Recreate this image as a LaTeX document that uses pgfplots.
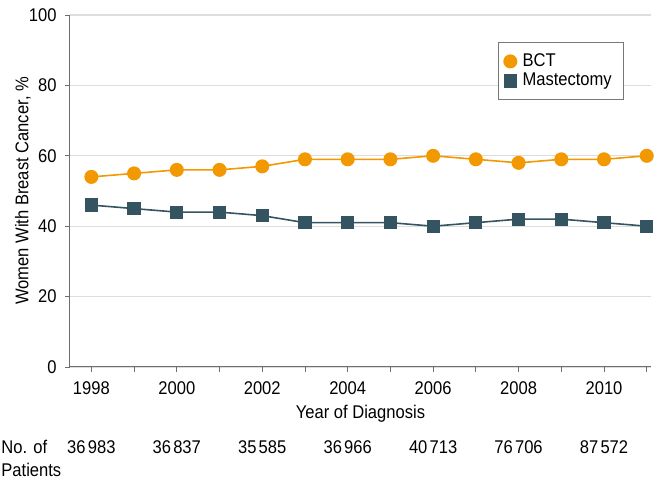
\documentclass[border=0pt]{standalone}
\usepackage{fontspec}
\setmainfont[FakeStretch=0.9]{Liberation Sans}
\usepackage{pgfplots}
\pgfplotsset{compat=1.18}
\definecolor{bct}{RGB}{242,152,0}
\definecolor{mast}{RGB}{52,84,98}
\definecolor{axgray}{RGB}{110,110,110}
\definecolor{gridgray}{RGB}{221,221,221}
\newcommand{\fs}{\fontsize{9.2pt}{10.5pt}\selectfont}
\begin{document}
\fs
\begin{tikzpicture}
\begin{axis}[
  name=ax,
  scale only axis,
  width=290.5pt, height=176pt,
  xmin=1997.5, xmax=2011.1,
  ymin=0, ymax=100,
  axis x line*=bottom, axis y line*=left,
  axis line style={axgray, line width=0.5pt},
  xtick={1998,2000,...,2010},
  minor xtick={1999,2001,...,2011},
  ytick={0,20,...,100},
  tick align=outside,
  major tick length=2.5pt, minor tick length=2.5pt,
  tick style={axgray, line width=0.4pt},
  minor tick style={axgray, line width=0.4pt},
  ymajorgrids, major grid style={gridgray, line width=0.6pt},
  xticklabel style={yshift=-1.5pt, font=\fs},
  yticklabel style={xshift=-1pt, font=\fs},
  /pgf/number format/assume math mode=true,
  /pgf/number format/1000 sep={},
  xlabel={Year of Diagnosis},
  xlabel style={at={(rel axis cs:0.5,0)}, anchor=center, yshift=-23.5pt, font=\fs},
  clip=false,
  legend style={at={(rel axis cs:0.954,0.923)}, anchor=north east, draw={rgb,255:red,120;green,120;blue,120}, line width=0.5pt, fill=white, font=\fs, row sep=-1pt, inner xsep=3pt, inner ysep=4pt, legend cell align=left, nodes={inner xsep=3pt, inner ysep=1.5pt}},
  legend image code/.code={\draw[#1] plot coordinates {(0.1cm,0cm)};},
]
\addplot[color=bct, line width=0.8pt, mark=*, mark size=3.1pt, mark options={fill=bct, draw=bct}] coordinates {
(1998,54) (1999,55) (2000,56) (2001,56) (2002,57) (2003,59) (2004,59) (2005,59) (2006,60) (2007,59) (2008,58) (2009,59) (2010,59) (2011,60)};
\addlegendentry{BCT}
\addplot[color=mast, line width=0.8pt, mark=square*, mark size=2.9pt, mark options={fill=mast, draw=mast}] coordinates {
(1998,46) (1999,45) (2000,44) (2001,44) (2002,43) (2003,41) (2004,41) (2005,41) (2006,40) (2007,41) (2008,42) (2009,42) (2010,41) (2011,40)};
\addlegendentry{Mastectomy}
\foreach \yr/\n in {1998/36\kern0.12em983, 2000/36\kern0.12em837, 2002/35\kern0.12em585, 2004/36\kern0.12em966, 2006/40\kern0.12em713, 2008/76\kern0.12em706, 2010/87\kern0.12em572}{
  \edef\tmp{\noexpand\node[anchor=center, font=\noexpand\fs] at (axis cs:\yr,0) [yshift=-40pt] {\n};}
  \tmp
}
\end{axis}
\node[anchor=west, font=\fs, inner xsep=0pt] at ([shift={(-34.5pt,-40pt)}]ax.south west) {No. of};
\node[anchor=west, font=\fs, inner xsep=0pt] at ([shift={(-34.5pt,-51.5pt)}]ax.south west) {Patients};
\node[rotate=90, anchor=center, font=\fs] at ([xshift=-23.5pt]ax.west) {Women With Breast Cancer, \%};
\pgfresetboundingbox
\path ([shift={(-35pt,-59pt)}]ax.south west) rectangle ([shift={(6pt,7.5pt)}]ax.north east);
\end{tikzpicture}
\end{document}
